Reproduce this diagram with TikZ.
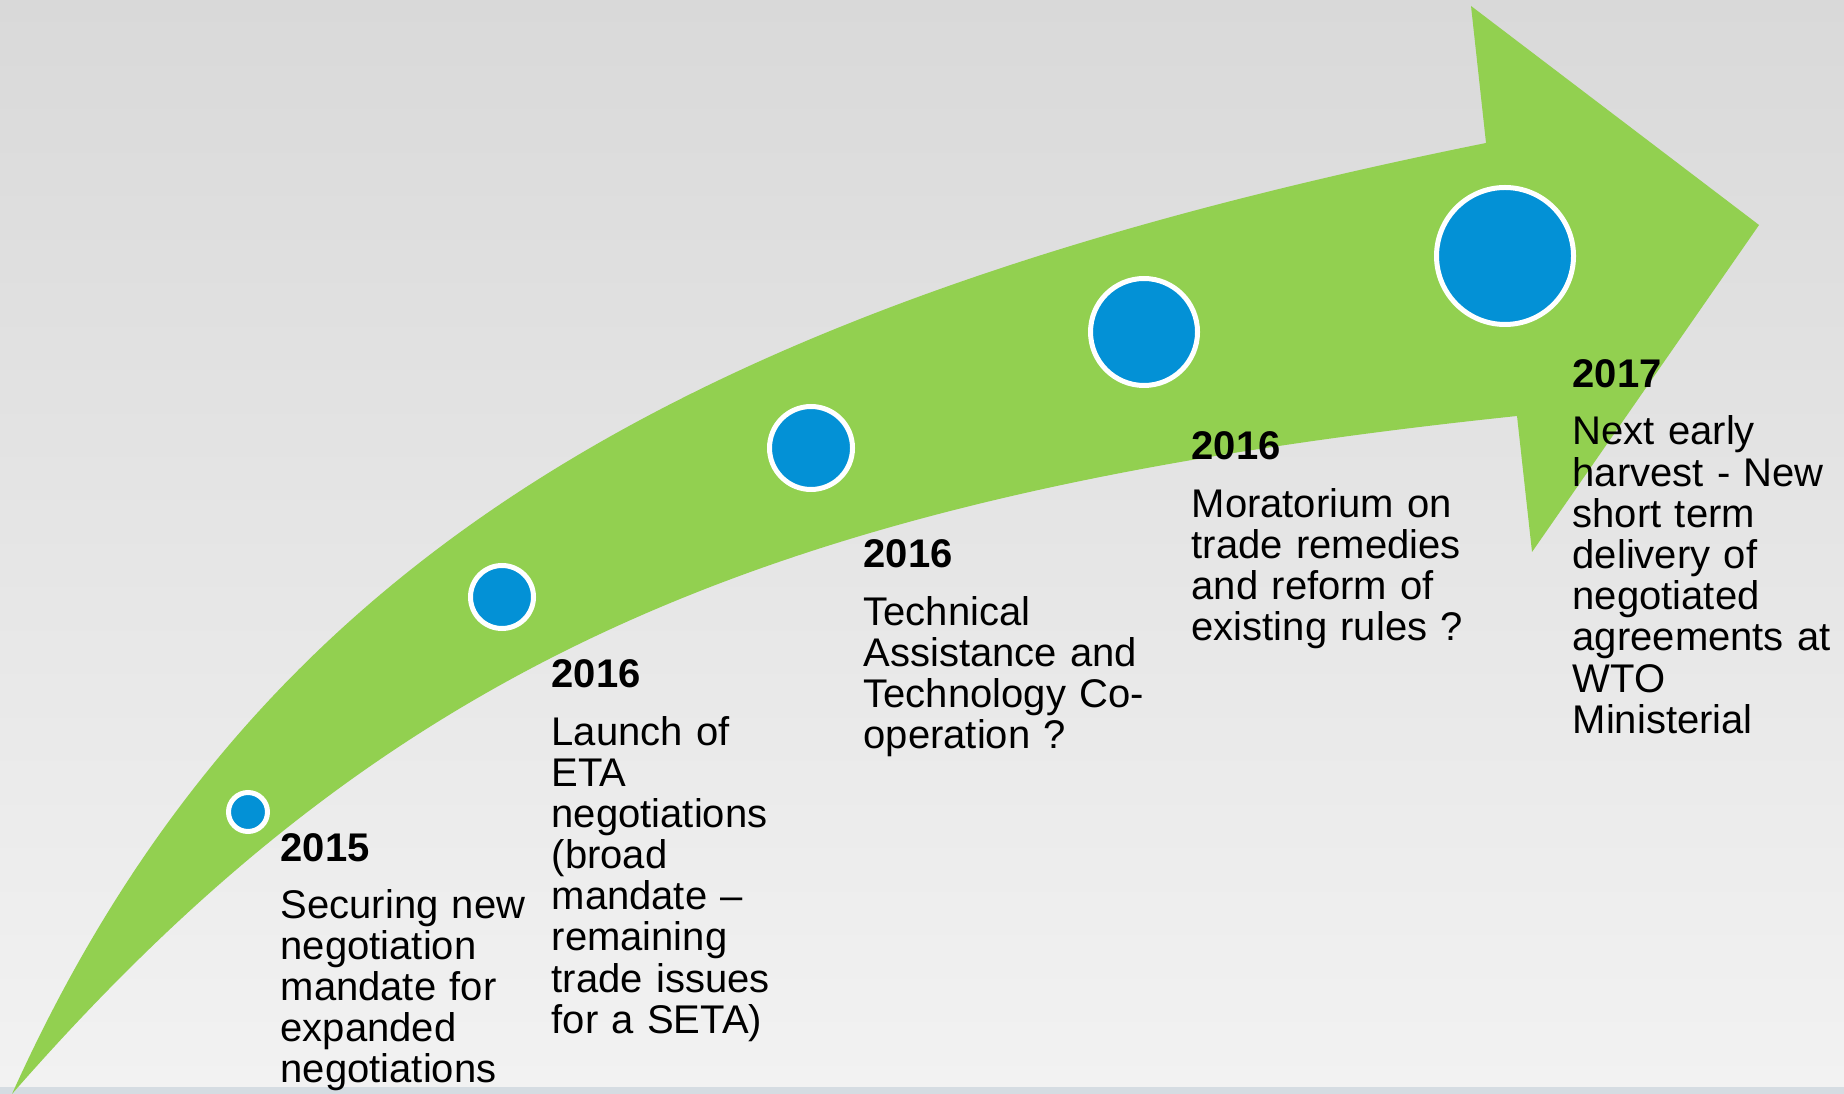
\documentclass[tikz,border=0pt]{standalone}
\usepackage{fontspec}
\setmainfont{Liberation Sans}

\definecolor{bgtop}{HTML}{D9D9D9}
\definecolor{bgbottom}{HTML}{F2F2F2}
\definecolor{footgray}{HTML}{D5DCE2}
\definecolor{arrowgreen}{HTML}{92D050}
\definecolor{dotblue}{HTML}{0391D6}

\tikzset{
  stagedot/.style={circle, fill=dotblue, draw=white, line width=0.5mm, inner sep=0pt, outer sep=0pt},
  milestone/.style={anchor=base west, inner sep=0pt, text width=7cm, align=left,
    font=\fontsize{11.38}{11.72}\selectfont},
}

\begin{document}
\begin{tikzpicture}[x=0.1mm, y=-0.1mm]
            % Background
            \shade[top color=bgtop, bottom color=bgbottom] (0,0) rectangle (1844,1087);
            \fill[footgray] (0,1087) rectangle (1844,1094);
            \useasboundingbox (0,0) rectangle (1844,1094);

            % Curved arrow
            \fill[arrowgreen] (12,1094) .. controls (245,577) and (658,310) .. (1486,143)
                -- (1471,6) -- (1759,225) -- (1532,552) -- (1517,416)
                .. controls (764,495) and (388,664) .. (12,1094) -- cycle;

            % Milestone dots
            \node[stagedot, minimum size=3.9mm] (dot1) at (248,812) {};
            \node[stagedot, minimum size=6.3mm] (dot2) at (502,597) {};
            \node[stagedot, minimum size=8.3mm] (dot3) at (811,448) {};
            \node[stagedot, minimum size=10.7mm] (dot4) at (1144,332) {};
            \node[stagedot, minimum size=13.7mm] (dot5) at (1505,256) {};

            % Milestone texts
            \node[milestone] (text1) at (280,861) {\textbf{2015}\\[4.5pt]
                Securing new\\negotiation\\mandate for\\expanded\\negotiations};
            \node[milestone] (text2) at (551,688) {\textbf{2016}\\[4.5pt]
                Launch of\\ETA\\negotiations\\(broad\\mandate –\\remaining\\trade issues\\for a SETA)};
            \node[milestone] (text3) at (863,568) {\textbf{2016}\\[4.5pt]
                Technical\\Assistance and\\Technology Co-\\operation ?};
            \node[milestone] (text4) at (1191,460) {\textbf{2016}\\[4.5pt]
                Moratorium on\\trade remedies\\and reform of\\existing rules ?};
            \node[milestone] (text5) at (1572,388) {\textbf{2017}\\[4.5pt]
                Next early\\harvest - New\\short term\\delivery of\\negotiated\\agreements at\\WTO\\Ministerial};
\end{tikzpicture}
\end{document}
